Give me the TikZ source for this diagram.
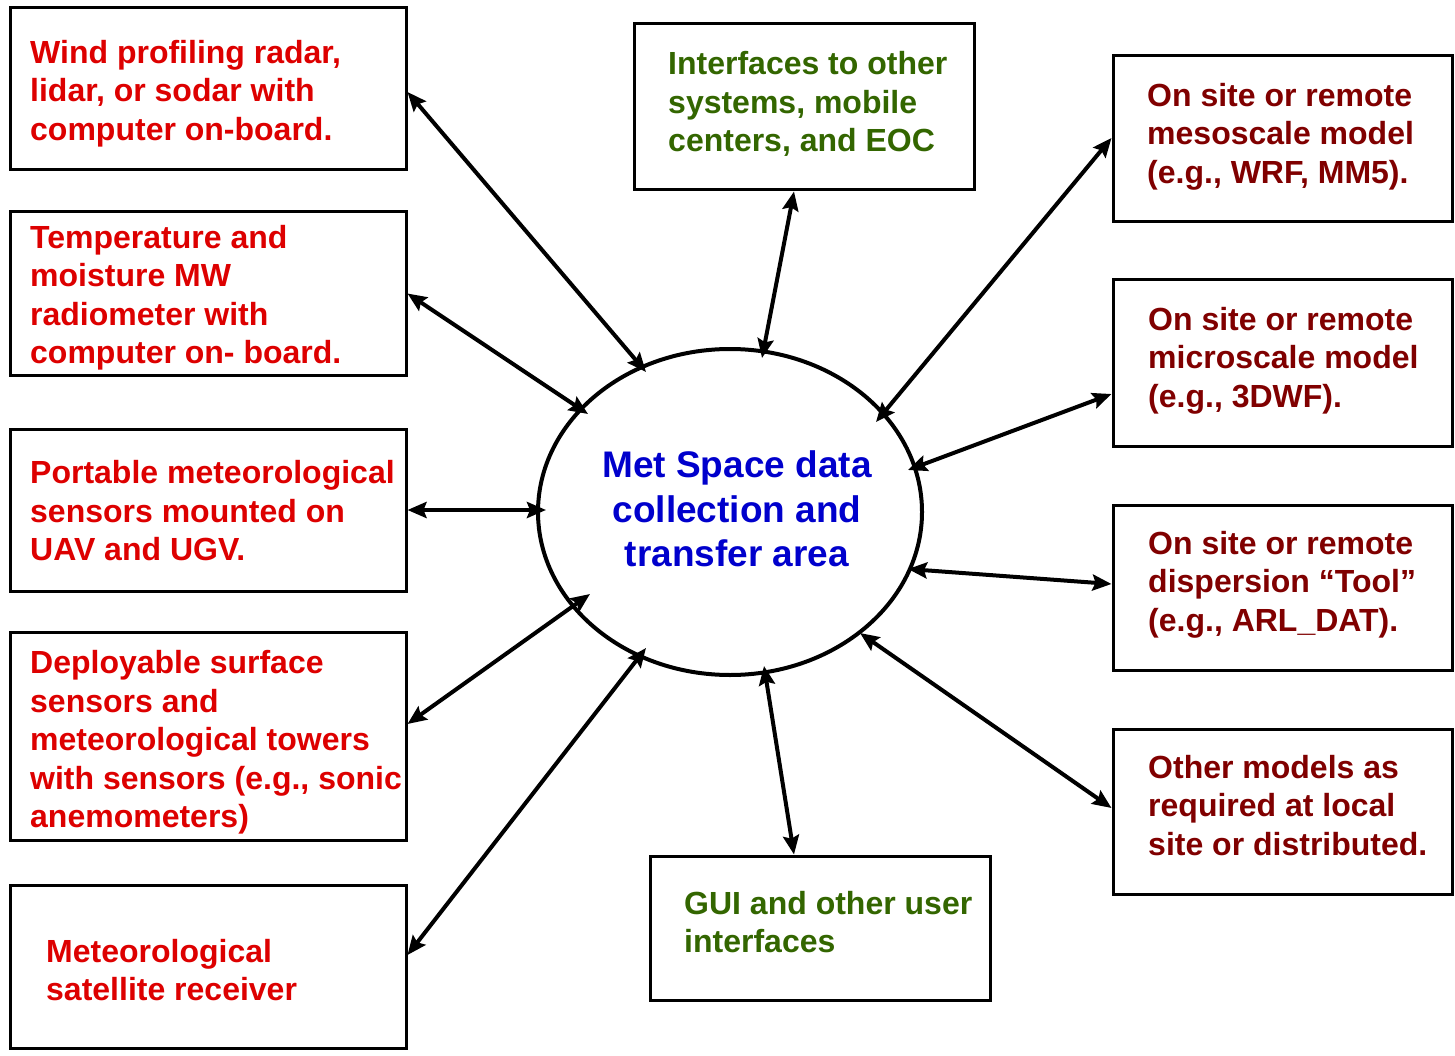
\documentclass[tikz,border=0pt]{standalone}
\usepackage{fontspec}
\setmainfont{Liberation Sans}
\usetikzlibrary{shapes.geometric,arrows.meta,calc}
\definecolor{lred}{RGB}{221,0,0}
\definecolor{dred}{RGB}{128,0,0}
\definecolor{dgreen}{RGB}{51,102,0}
\definecolor{dblue}{RGB}{0,0,204}
\begin{document}
\begin{tikzpicture}[x=1pt,y=-1pt,
  box/.style={draw=black,line width=3pt,rectangle,inner sep=0pt},
  txt/.style={inner sep=0pt,anchor=west,align=left,font=\fontsize{32}{38.5}\selectfont\bfseries},
  arr/.style={line width=4pt,{Stealth[length=19pt,width=16pt,inset=3pt]}-{Stealth[length=19pt,width=16pt,inset=3pt]}}]
\useasboundingbox (0,0) rectangle (1455,1056);
% boxes
\node[box,minimum width=396pt,minimum height=162pt] (w1) at (208,89) {};
\node[box,minimum width=396pt,minimum height=163pt] (w2) at (208,293.5) {};
\node[box,minimum width=396pt,minimum height=162pt] (w3) at (208,510) {};
\node[box,minimum width=396pt,minimum height=208pt] (w4) at (208,736) {};
\node[box,minimum width=396pt,minimum height=163pt] (w5) at (208,966.5) {};
\node[box,minimum width=340pt,minimum height=166pt] (top) at (804,107) {};
\node[box,minimum width=339pt,minimum height=166pt] (r1) at (1282.5,139) {};
\node[box,minimum width=339pt,minimum height=166pt] (r2) at (1282.5,363) {};
\node[box,minimum width=339pt,minimum height=165pt] (r3) at (1282.5,587.5) {};
\node[box,minimum width=339pt,minimum height=165pt] (r4) at (1282.5,811.5) {};
\node[box,minimum width=340pt,minimum height=144pt] (bot) at (820,928) {};
\node[ellipse,draw=black,line width=4pt,minimum width=384pt,minimum height=326pt,inner sep=0pt] (ell) at (730,512) {};
% texts
\node[txt,text=lred] (w1t) at (30,93.5) {Wind profiling radar,\\lidar, or sodar with\\computer on-board.};
\node[txt,text=lred] (w2t) at (30,297.5) {Temperature and\\moisture MW\\radiometer with\\computer on- board.};
\node[txt,text=lred] (w3t) at (30,511) {Portable meteorological\\sensors mounted on\\UAV and UGV.};
\node[txt,text=lred] (w4t) at (30,742.5) {Deployable surface\\sensors and\\meteorological towers\\with sensors (e.g., sonic\\anemometers)};
\node[txt,text=lred] (w5t) at (46,970) {Meteorological\\satellite receiver};
\node[txt,text=dgreen] (topt) at (668,104) {Interfaces to other\\systems, mobile\\centers, and EOC};
\node[txt,text=dred] (r1t) at (1147,136.5) {On site or remote\\mesoscale model\\(e.g., WRF, MM5).};
\node[txt,text=dred] (r2t) at (1148,360.5) {On site or remote\\microscale model\\(e.g., 3DWF).};
\node[txt,text=dred] (r3t) at (1148,584.5) {On site or remote\\dispersion “Tool”\\(e.g., ARL\_DAT).};
\node[txt,text=dred] (r4t) at (1148,805.5) {Other models as\\required at local\\site or distributed.};
\node[txt,text=dgreen] (bott) at (684,922) {GUI and other user\\interfaces};
\node[inner sep=0pt,align=center,text=dblue,font=\fontsize{37}{44.5}\selectfont\bfseries] (ellt) at (737,509) {Met Space data\\collection and\\transfer area};
% connectors
\draw[arr] ($(w1.east)+(0,3)$) -- ($(ell.center)+(-84,-140)$);
\draw[arr] (w2.east) -- ($(ell.center)+(-142,-98)$);
\draw[arr] (w3.east) -- ($(ell.center)+(-184,-2)$);
\draw[arr] ($(w4.east)+(0,-12)$) -- ($(ell.center)+(-140,82)$);
\draw[arr] ($(w5.east)+(0,-11.5)$) -- ($(ell.center)+(-84,136)$);
\draw[arr] ($(top.south)+(-10,0)$) -- ($(ell.center)+(32,-154)$);
\draw[arr] ($(bot.north)+(-26,0)$) -- ($(ell.center)+(34,154)$);
\draw[arr] ($(r1.west)+(0,-1)$) -- ($(ell.center)+(146,-90)$);
\draw[arr] ($(r2.west)+(0,31)$) -- ($(ell.center)+(178,-42)$);
\draw[arr] ($(r3.west)+(0,-3.5)$) -- ($(ell.center)+(178,57)$);
\draw[arr] ($(r4.west)+(0,-3.5)$) -- ($(ell.center)+(130,121)$);
\end{tikzpicture}
\end{document}
